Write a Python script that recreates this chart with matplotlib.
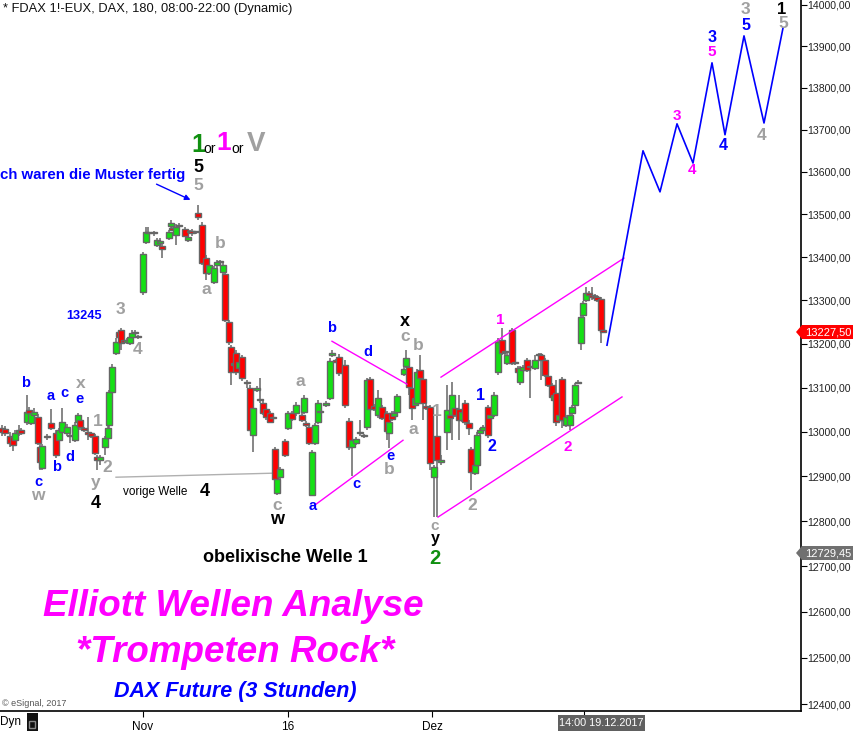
import matplotlib
matplotlib.use("Agg")
import matplotlib.pyplot as plt
from matplotlib.patches import Polygon, Rectangle
from matplotlib.ticker import FixedLocator, FuncFormatter, NullLocator, NullFormatter

plt.rcParams['font.family'] = ['Liberation Sans', 'DejaVu Sans']

# --- data: 3h candles of FDAX (time in chart units, ~13 units per trading day)
t = [2, 5, 10, 13, 15, 19, 21, 27, 29, 31, 34, 38, 40, 42, 47, 51, 56, 59, 62, 67,
     70, 75, 78, 80, 84, 88, 91, 95, 97, 100, 105, 108, 109, 112, 116, 119, 121, 124, 127, 130,
     132, 135, 138, 143, 146, 148, 154, 157, 160, 162, 169, 171, 172, 176, 179, 185, 188, 190, 192, 196,
     198, 202, 206, 209, 214, 217, 220, 223, 225, 229, 231, 234, 236, 239, 242, 247, 250, 253, 257, 260,
     263, 266, 270, 273, 275, 277, 280, 285, 288, 292, 296, 302, 304, 306, 309, 312, 315, 318, 320, 326,
     330, 332, 336, 339, 345, 349, 352, 356, 360, 364, 367, 370, 374, 378, 382, 387, 389, 392, 394, 397,
     404, 406, 409, 412, 415, 417, 420, 423, 426, 430, 434, 437, 441, 447, 450, 452, 455, 459, 462, 465,
     469, 471, 475, 477, 480, 483, 488, 490, 494, 498, 502, 505, 507, 512, 515, 518, 520, 523, 527, 530,
     535, 539, 541, 545, 548, 552, 554, 556, 559, 562, 566, 570, 572, 575, 578, 581, 583, 586, 589, 592,
     595, 597, 601, 603]
o = [13008, 13006, 12991, 12988, 12981, 12997, 13004, 13022, 13049, 13020, 13038, 13034, 12966, 12918, 12988, 13020, 12997, 12981, 12999, 12997,
     12991, 12981, 13022, 13027, 13008, 12997, 12997, 12991, 12943, 12936, 12966, 12986, 13015, 13090, 13179, 13227, 13232, 13209, 13204, 13202,
     13216, 13227, 13216, 13319, 13436, 13459, 13457, 13428, 13433, 13426, 13445, 13473, 13468, 13452, 13473, 13466, 13440, 13459, 13461, 13458,
     13503, 13475, 13398, 13363, 13342, 13382, 13389, 13366, 13361, 13250, 13193, 13152, 13179, 13145, 13170, 13111, 13099, 12993, 13095, 13072,
     13065, 13051, 13043, 13032, 12961, 12862, 12898, 12979, 13008, 13043, 13043, 13038, 13045, 13020, 13011, 12858, 12975, 13022, 13047, 13060,
     13076, 13174, 13163, 13170, 13152, 13025, 12966, 12975, 12997, 12990, 13011, 13120, 13058, 13038, 13056, 13043, 12997, 13043, 13036, 13045,
     13131, 13149, 13147, 13099, 13060, 13065, 13140, 13120, 13058, 13056, 12898, 12991, 12932, 12999, 13038, 13038, 13054, 13051, 13027, 13065,
     13020, 12961, 12907, 12925, 12997, 13004, 13056, 13031, 13038, 13136, 13209, 13182, 13156, 13232, 13157, 13145, 13113, 13140, 13163, 13147,
     13145, 13174, 13174, 13163, 13127, 13106, 13072, 13088, 13027, 13120, 13015, 13015, 13043, 13060, 13111, 13202, 13266, 13301, 13317, 13312,
     13310, 13308, 13303, 13231]
h = [13015, 13013, 12999, 12995, 13004, 13015, 13008, 13083, 13056, 13047, 13054, 13040, 12972, 12972, 12995, 13052, 13004, 13008, 13054, 13018,
     12999, 13022, 13043, 13031, 13011, 13034, 13000, 12995, 12948, 12948, 12990, 13013, 13095, 13154, 13213, 13232, 13236, 13213, 13213, 13220,
     13232, 13232, 13220, 13412, 13471, 13471, 13461, 13445, 13445, 13433, 13464, 13487, 13473, 13478, 13480, 13471, 13452, 13464, 13466, 13462,
     13522, 13482, 13405, 13389, 13380, 13394, 13394, 13389, 13366, 13255, 13197, 13159, 13186, 13163, 13174, 13117, 13106, 13060, 13104, 13122,
     13072, 13056, 13047, 13036, 12966, 12898, 12920, 12984, 13047, 13047, 13067, 13043, 13083, 13025, 13015, 12959, 13020, 13072, 13060, 13069,
     13168, 13186, 13166, 13177, 13163, 13031, 12986, 12988, 13027, 12995, 13122, 13124, 13063, 13095, 13060, 13047, 13027, 13047, 13047, 13086,
     13152, 13186, 13152, 13104, 13081, 13143, 13174, 13124, 13063, 13060, 12925, 13060, 12948, 13106, 13043, 13113, 13058, 13083, 13049, 13072,
     13027, 12966, 12930, 13000, 13008, 13015, 13060, 13043, 13090, 13213, 13236, 13186, 13179, 13236, 13161, 13149, 13149, 13152, 13168, 13152,
     13174, 13179, 13179, 13168, 13131, 13111, 13086, 13117, 13043, 13124, 13038, 13043, 13060, 13111, 13117, 13266, 13298, 13331, 13322, 13331,
     13315, 13312, 13308, 13234]
l = [12991, 12991, 12966, 12957, 12977, 12991, 12993, 13015, 13036, 13015, 13034, 12970, 12914, 12914, 12981, 13004, 12941, 12968, 12995, 12991,
     12975, 12977, 13015, 13004, 13000, 12981, 12986, 12948, 12914, 12925, 12948, 12981, 13008, 13086, 13174, 13209, 13186, 13200, 13200, 13197,
     13211, 13218, 13211, 13312, 13431, 13450, 13450, 13424, 13431, 13398, 13440, 13468, 13461, 13428, 13470, 13447, 13436, 13454, 13450, 13454,
     13487, 13382, 13347, 13359, 13338, 13375, 13385, 13361, 13250, 13197, 13106, 13147, 13129, 13140, 13115, 13099, 13002, 12954, 13090, 13065,
     13038, 13027, 13020, 13027, 12889, 12858, 12894, 12943, 13004, 13025, 13036, 13022, 13040, 13011, 12970, 12856, 12970, 13018, 13027, 13056,
     13072, 13170, 13156, 13127, 13054, 12959, 12900, 12970, 12991, 12986, 13004, 13047, 13047, 13031, 13027, 12981, 12963, 13025, 13031, 13040,
     13127, 13145, 13083, 13027, 13056, 13060, 13117, 13027, 13049, 12914, 12809, 12809, 12925, 12959, 13027, 12981, 13034, 12981, 13022, 13015,
     12993, 12869, 12903, 12920, 12993, 12999, 12986, 13027, 13034, 13129, 13174, 13174, 13152, 13152, 13152, 13131, 13106, 13136, 13136, 13076,
     13140, 13170, 13117, 13124, 13102, 13072, 13067, 13013, 13022, 13008, 13011, 13004, 13038, 13056, 13108, 13186, 13261, 13296, 13308, 13301,
     13301, 13296, 13202, 13226]
c = [12999, 12997, 12975, 12970, 12997, 13004, 12997, 13045, 13043, 13043, 13045, 12975, 12932, 12968, 12989, 13008, 12948, 13004, 13022, 13011,
     12990, 13015, 13038, 13011, 13004, 12996, 12991, 12952, 12936, 12943, 12986, 13008, 13090, 13147, 13204, 13216, 13202, 13204, 13209, 13216,
     13225, 13225, 13215, 13408, 13459, 13457, 13456, 13440, 13438, 13419, 13459, 13480, 13464, 13471, 13476, 13450, 13447, 13460, 13457, 13459,
     13494, 13387, 13363, 13382, 13375, 13389, 13390, 13382, 13255, 13204, 13136, 13156, 13136, 13159, 13122, 13110, 13004, 13054, 13099, 13071,
     13043, 13034, 13022, 13031, 12894, 12894, 12916, 12948, 13043, 13029, 13060, 13027, 13076, 13015, 12975, 12954, 13015, 13065, 13044, 13065,
     13161, 13179, 13159, 13134, 13060, 12966, 12981, 12984, 12998, 12991, 13117, 13051, 13051, 13076, 13031, 13002, 13022, 13029, 13043, 13081,
     13143, 13168, 13102, 13054, 13076, 13136, 13122, 13065, 13054, 12930, 12920, 12936, 12936, 13049, 13031, 13083, 13038, 13027, 13045, 13022,
     13008, 12909, 12925, 12993, 13004, 13011, 12993, 13038, 13083, 13204, 13179, 13181, 13174, 13156, 13156, 13136, 13145, 13147, 13140, 13146,
     13163, 13175, 13163, 13129, 13106, 13079, 13083, 13022, 13038, 13027, 13034, 13038, 13056, 13106, 13113, 13261, 13294, 13317, 13312, 13308,
     13305, 13301, 13232, 13227.5]

# trend channel (magenta) and contracting triangle
chan_up_t, chan_up_p = [441, 624], [13124, 13398]
chan_lo_t, chan_lo_p = [438, 622], [12809, 13079]
tri_up_t, tri_up_p = [332, 407], [13206, 13108]
tri_lo_t, tri_lo_p = [315, 403], [12836, 12981]
prev4_t, prev4_p = [116, 273], [12898, 12907]

# projected path (blue)
fc_t = [607, 643, 660, 677, 693, 712, 725, 744, 764, 783]
fc_p = [13197, 13650, 13553, 13714, 13621, 13860, 13688, 13925, 13716, 13944]

date_ticks = [143, 288, 432]
date_labels = ["Nov", "16", "Dez"]
price_ticks = list(range(12400, 14001, 100))
last_price = 13227.50
low_price = 12729.45

W, H = 854, 732
fig = plt.figure(figsize=(W / 100, H / 100), dpi=100)
ax = fig.add_axes([0, 21 / H, 801 / W, 711 / H])


def fp(x, y):
    # pixel position -> figure fraction
    return x / W, 1 - y / H


def lab(x, y, s, color, size=9, weight='bold', ha='center', style='normal'):
    fig.text(*fp(x, y), s, color=color, fontsize=size, fontweight=weight,
             ha=ha, va='center', style=style)


# candles
GREEN, RED, EDGE = '#14e014', '#ff0000', '#666666'
ax.vlines(t, l, h, color=EDGE, lw=1.1, zorder=2)
for ti, oi, ci in zip(t, o, c):
    lo_, hi_ = min(oi, ci), max(oi, ci)
    if hi_ - lo_ < 3:
        hi_ = lo_ + 3
    ax.add_patch(Rectangle((ti - 2.6, lo_), 5.2, hi_ - lo_,
                           facecolor=GREEN if ci >= oi else RED,
                           edgecolor=EDGE, lw=1.0, zorder=3))

ax.plot(chan_up_t, chan_up_p, color='#ff00ff', lw=1, zorder=4)
ax.plot(chan_lo_t, chan_lo_p, color='#ff00ff', lw=1, zorder=4)
ax.plot(tri_up_t, tri_up_p, color='#ff00ff', lw=1, zorder=4)
ax.plot(tri_lo_t, tri_lo_p, color='#ff00ff', lw=1, zorder=4)
ax.plot(prev4_t, prev4_p, color='#b0b0b0', lw=1, zorder=1)
ax.plot(fc_t, fc_p, color='#0000ff', lw=1.2, zorder=4)

ax.set_yscale('log')
ax.set_ylim(12385, 14012)
ax.set_xlim(0, 801)
ax.yaxis.set_major_locator(FixedLocator(price_ticks))
ax.yaxis.set_major_formatter(FuncFormatter(lambda v, p: f"{v:.2f}".replace('.', ',')))
ax.yaxis.set_minor_locator(NullLocator())
ax.yaxis.set_minor_formatter(NullFormatter())
ax.yaxis.tick_right()
ax.tick_params(axis='y', direction='out', length=4, pad=0.5, labelsize=7.6, labelcolor='#222222')
ax.set_xticks(date_ticks + [584])
ax.set_xticklabels(date_labels + [""])
ax.tick_params(axis='x', direction='out', length=4, pad=3, labelsize=8.5)
for s in ['top', 'left']:
    ax.spines[s].set_visible(False)
for s in ['right', 'bottom']:
    ax.spines[s].set_linewidth(1.2)

# header and credits
lab(3, 9, "* FDAX 1!-EUX, DAX, 180, 08:00-22:00 (Dynamic)", '#111111', 9.3, 'normal', 'left')
lab(2, 703, "\u00a9 eSignal, 2017", '#555555', 6.5, 'normal', 'left')
lab(0, 722, "Dyn", '#000000', 8.5, 'normal', 'left')
fig.patches.append(Rectangle(fp(27, 731), 11 / W, 18 / H, transform=fig.transFigure,
                             facecolor='#111111', edgecolor='none'))
fig.patches.append(Rectangle(fp(29.5, 728), 6 / W, 7 / H, transform=fig.transFigure,
                             facecolor='none', edgecolor='#888888', lw=1))

# price tags on the right axis
for price, y, col in [(last_price, 332, '#ff0000'), (low_price, 553, '#707070')]:
    pts = [fp(796, y), fp(802, y - 7), fp(853, y - 7), fp(853, y + 7), fp(802, y + 7)]
    fig.patches.append(Polygon(pts, closed=True, transform=fig.transFigure,
                               facecolor=col, edgecolor='none'))
    lab(828, y, f"{price:.2f}".replace('.', ','), 'white', 8, 'normal')

# cursor date box
fig.patches.append(Rectangle(fp(558, 731), 87 / W, 16 / H, transform=fig.transFigure,
                             facecolor='#606060', edgecolor='none'))
lab(601, 723, "14:00 19.12.2017", 'white', 7.8, 'normal')

# comments
ax.annotate('', xy=fp(193, 201), xytext=fp(154, 183), xycoords='figure fraction',
            textcoords='figure fraction',
            arrowprops=dict(arrowstyle='-|>', color='#0000ff', lw=1, mutation_scale=8))
lab(0, 175, "ch waren die Muster fertig", '#0000ff', 10.8, 'bold', 'left')
lab(84, 316, "13245", '#0000ff', 9.2)
lab(123, 492, "vorige Welle", '#000000', 8.5, 'normal', 'left')
lab(285, 557, "obelixische Welle 1", '#000000', 13)
lab(233, 607, "Elliott Wellen Analyse", '#ff00ff', 26.5, 'bold', style='italic')
lab(235, 653, "*Trompeten Rock*", '#ff00ff', 26.5, 'bold', style='italic')
lab(235, 691, "DAX Future (3 Stunden)", '#0000ff', 15.5, 'bold', style='italic')

# "1 or 1 or V"
lab(198, 145, "1", '#109010', 18)
lab(210, 149, "or", '#000000', 10, 'normal')
lab(224, 143, "1", '#ff00ff', 19)
lab(238, 149, "or", '#000000', 10, 'normal')
lab(256, 144, "V", '#a0a0a0', 20)

BLUE, GRAY, BLK, MAG = '#0000ff', '#a0a0a0', '#000000', '#ff00ff'
blue_lbl = [(26, 383, 'b'), (51, 396, 'a'), (64, 393, 'c'), (80, 399, 'e'), (70, 457, 'd'),
            (57, 467, 'b'), (38, 482, 'c'), (332, 328, 'b'), (368, 352, 'd'), (391, 456, 'e'),
            (356, 484, 'c'), (313, 506, 'a')]
for x, y, s in blue_lbl:
    lab(x, y, s, BLUE, 10.5)
for x, y, s in [(481, 395, '1'), (492, 447, '2'), (712, 38, '3'), (723, 146, '4'), (746, 25, '5')]:
    lab(x, y, s, BLUE, 11.5)
gray_lbl = [(81, 383, 'x'), (38, 495, 'w'), (98, 422, '1'), (107, 467, '2'), (96, 483, 'y'),
            (120, 310, '3'), (138, 350, '4'), (220, 243, 'b'), (206, 290, 'a'), (198, 185, '5'),
            (300, 382, 'a'), (405, 336, 'c'), (418, 345, 'b'), (413, 430, 'a'), (389, 469, 'b'),
            (277, 505, 'c'), (437, 412, '1'), (472, 505, '2'),
            (745, 10, '3'), (762, 135, '4'), (783, 24, '5')]
for x, y, s in gray_lbl:
    lab(x, y, s, GRAY, 12.5)
lab(435, 526, 'c', GRAY, 11)
black_lbl = [(96, 503, '4'), (205, 492, '4'), (277, 520, 'w'), (405, 321, 'x'), (198, 167, '5')]
for x, y, s in black_lbl:
    lab(x, y, s, BLK, 13)
lab(435, 539, 'y', BLK, 11.5)
lab(782, 9, '1', BLK, 12)
for x, y, s in [(500, 320, '1'), (568, 447, '2'), (677, 116, '3'), (692, 170, '4'), (712, 52, '5')]:
    lab(x, y, s, MAG, 11)
lab(435, 558, "2", '#109010', 14.5)

fig.savefig("out.png", dpi=100, facecolor='white')
